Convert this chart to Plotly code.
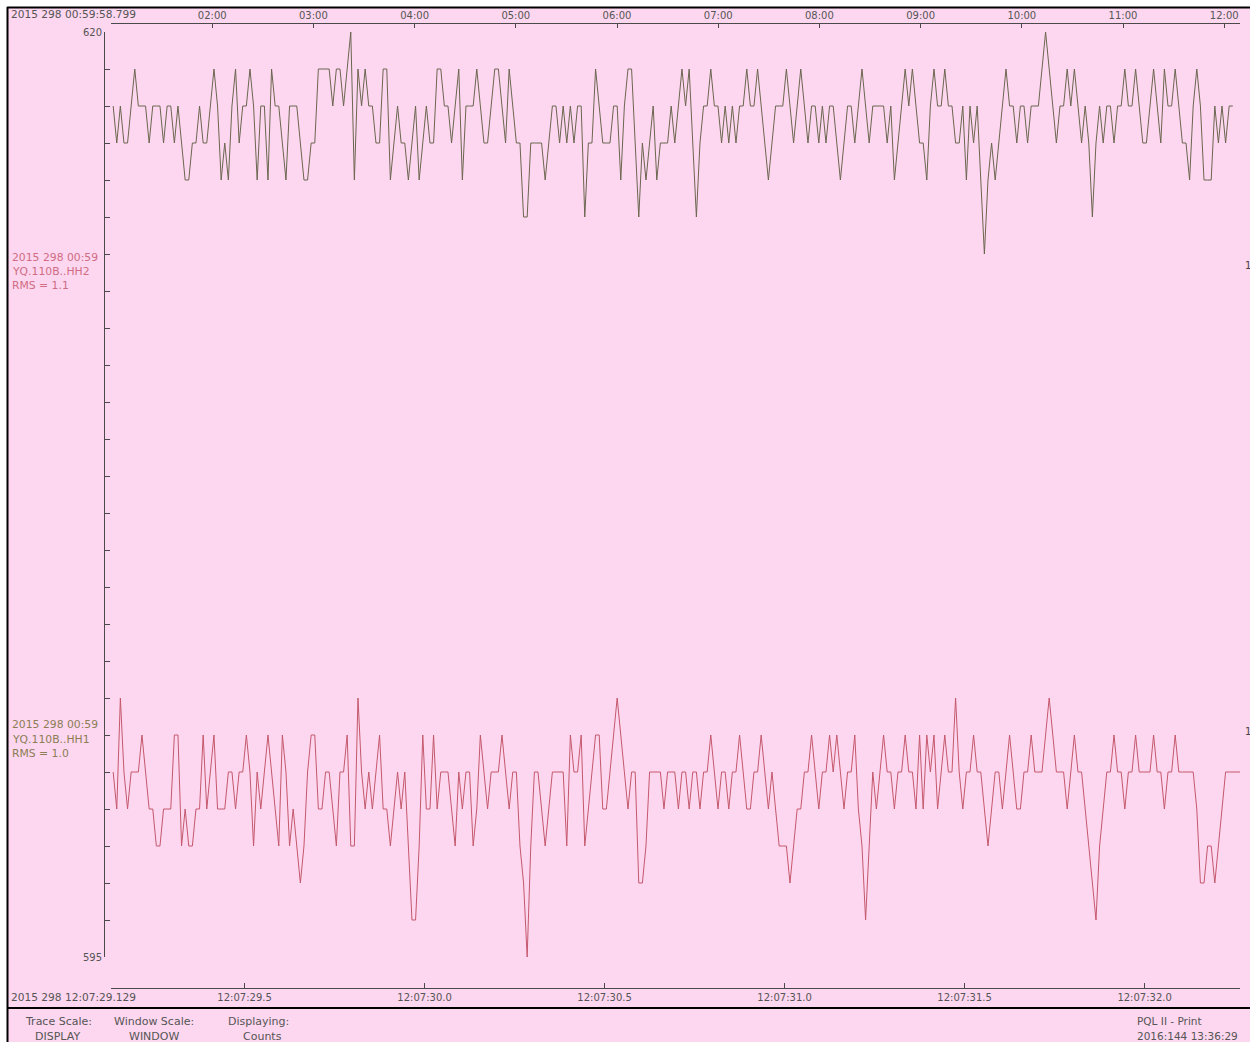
import plotly.graph_objects as go

# ---------------- data ----------------
START_SEC = 29.129          # seconds after 12:07:00 (bottom axis start)
END_SEC = 32.265
SAMPLE_DT = 0.01            # 100 Hz samples

hh2_counts = [
    618,617,618,617,617,618,619,618,618,618,
    617,618,618,618,617,618,618,617,618,617,
    616,616,617,617,618,617,617,618,619,618,
    616,617,616,618,619,617,618,618,619,618,
    616,618,618,616,619,618,618,617,616,618,
    618,618,617,616,616,617,617,619,619,619,
    619,618,619,619,618,619,620,616,619,618,
    619,618,618,617,617,619,619,616,617,618,
    617,617,616,617,618,616,617,618,617,617,
    619,619,618,618,617,618,619,616,618,618,
    618,619,618,617,617,618,619,619,618,617,
    619,618,617,617,615,615,617,617,617,617,
    616,617,618,618,617,618,617,618,617,618,
    618,615,617,617,619,618,617,617,617,618,
    618,616,618,619,619,617,615,617,616,617,
    618,616,617,617,617,618,617,
    618,619,618,619,617,615,617,618,618,619,
    618,618,617,618,617,618,617,618,618,619,
    618,618,619,618,617,616,617,618,618,618,
    619,618,617,618,619,618,617,618,618,617,
    618,617,618,618,617,616,617,618,618,617,
    618,619,618,617,618,618,618,618,617,618,
    616,617,618,619,618,619,618,617,617,616,
    618,619,618,618,619,618,618,617,617,618,
    616,618,617,618,616,614,616,617,616,617,
    618,619,618,618,617,618,618,617,618,618,
    618,619,620,619,618,617,618,618,619,618,
    619,618,617,618,617,615,617,618,617,618,
    618,617,618,618,619,618,618,619,618,617,
    617,618,619,618,617,619,618,618,619,618,
    617,617,616,618,619,618,616,616,616,618,
    617,618,617,618,618,
]

hh1_counts = [
    600,599,602,600,599,600,600,600,601,600,
    599,599,598,598,599,599,599,601,601,598,
    599,598,598,599,599,601,599,600,601,599,
    599,599,600,600,599,600,600,601,600,598,
    600,599,600,601,600,599,598,601,600,598,
    599,598,597,598,600,601,601,599,599,600,
    600,599,598,600,600,601,598,598,602,600,
    599,600,599,600,601,599,599,598,599,600,
    599,600,598,596,596,598,601,599,599,601,
    599,600,600,600,599,598,600,599,600,600,
    598,599,601,600,599,600,600,600,601,600,
    599,600,600,598,597,595,598,600,600,599,
    598,599,600,600,600,600,598,601,600,600,
    601,598,599,600,601,601,599,599,600,601,
    602,601,600,599,600,600,597,597,598,600,
    600,600,600,599,600,600,
    600,599,600,600,599,600,600,599,600,600,
    601,600,599,600,600,599,600,600,601,600,
    599,599,600,600,601,600,599,600,599,598,
    598,598,597,598,599,599,600,600,601,600,
    599,600,600,601,600,601,600,599,600,600,
    601,599,598,596,598,600,599,600,601,600,
    600,599,600,600,601,600,600,599,601,599,
    601,600,601,599,600,601,600,600,602,600,
    599,600,600,601,600,600,599,598,599,600,
    600,599,600,601,600,599,599,600,600,601,
    600,600,600,601,602,601,600,600,600,599,
    600,601,600,600,599,598,597,596,598,599,
    600,600,601,600,600,599,600,600,601,600,
    600,600,600,601,600,600,599,600,600,601,
    600,600,600,600,600,599,597,597,598,598,
    597,598,599,600,600,600,600,600,
]

bottom_tick_vals = [29.5, 30.0, 30.5, 31.0, 31.5, 32.0]
bottom_tick_text = ["12:07:29.5", "12:07:30.0", "12:07:30.5",
                    "12:07:31.0", "12:07:31.5", "12:07:32.0"]
top_tick_vals = [2, 3, 4, 5, 6, 7, 8, 9, 10, 11, 12]
top_tick_text = ["02:00", "03:00", "04:00", "05:00", "06:00", "07:00",
                 "08:00", "09:00", "10:00", "11:00", "12:00"]
TOP_RANGE = [1.0, 12.156]
Y_RANGE = [595, 620]

# ---------------- geometry helpers ----------------
W, H = 1250, 1042
PL, PR, PT, PB = 104, 1240, 23, 988   # plot area in pixels
def px(x):
    return (x - PL) / (PR - PL)
def py(y):
    return (PB - y) / (PB - PT)

BG = "#fdd7ef"
AX = "#4a4a4a"
TXT = "#555555"
FONT = "DejaVu Sans"

t_top = [START_SEC + 0.006 + i * SAMPLE_DT for i in range(len(hh2_counts))]
t_bot = [START_SEC + 0.006 + i * SAMPLE_DT for i in range(len(hh1_counts))]

fig = go.Figure()
fig.add_trace(go.Scatter(x=t_top, y=hh2_counts, mode="lines",
                         line=dict(color="#6b6650", width=1), hoverinfo="skip"))
fig.add_trace(go.Scatter(x=t_bot, y=hh1_counts, mode="lines",
                         line=dict(color="#c4586c", width=1), hoverinfo="skip"))
fig.add_trace(go.Scatter(x=[TOP_RANGE[0]], y=[Y_RANGE[0]], xaxis="x2", mode="markers",
                         marker=dict(opacity=0), hoverinfo="skip"))

xdom = [px(111), 1.0]
fig.update_layout(
    width=W, height=H,
    margin=dict(l=PL, r=W - PR, t=PT, b=H - PB, pad=0),
    paper_bgcolor=BG, plot_bgcolor=BG,
    showlegend=False,
    font=dict(family=FONT, size=10, color=TXT),
    xaxis=dict(domain=xdom, range=[START_SEC, END_SEC], anchor="free", position=0,
               showgrid=False, zeroline=False, showline=True, linecolor=AX, linewidth=1,
               ticks="inside", ticklen=5, tickcolor=AX,
               tickvals=[START_SEC] + bottom_tick_vals + [END_SEC],
               ticktext=[""] + bottom_tick_text + [""],
               tickfont=dict(family=FONT, size=10, color=TXT)),
    xaxis2=dict(domain=xdom, range=TOP_RANGE, overlaying="x", side="top",
                anchor="free", position=1,
                showgrid=False, zeroline=False, showline=True, linecolor=AX, linewidth=1,
                ticks="inside", ticklen=4, tickcolor=AX,
                tickvals=top_tick_vals + [TOP_RANGE[1]],
                ticktext=top_tick_text + [""],
                tickfont=dict(family=FONT, size=10, color=TXT)),
    yaxis=dict(domain=[py(957), py(32)], range=Y_RANGE, anchor="free", position=0,
               showgrid=False, zeroline=False, showline=True, linecolor=AX, linewidth=1,
               ticks="inside", ticklen=5, tickcolor=AX,
               tickvals=list(range(595, 621)),
               ticktext=["595"] + [""] * 24 + ["620"],
               tickfont=dict(family=FONT, size=10, color=TXT)),
)

# frame: white strips, black lines
shapes = [
    dict(type="rect", xref="paper", yref="paper", x0=px(0), x1=px(W), y0=py(7), y1=py(0),
         fillcolor="white", line=dict(width=0), layer="above"),
    dict(type="rect", xref="paper", yref="paper", x0=px(0), x1=px(7), y0=py(H), y1=py(0),
         fillcolor="white", line=dict(width=0), layer="above"),
    dict(type="line", xref="paper", yref="paper", x0=px(7), x1=px(W), y0=py(7.5), y1=py(7.5),
         line=dict(color="black", width=2), layer="above"),
    dict(type="line", xref="paper", yref="paper", x0=px(7.5), x1=px(7.5), y0=py(H), y1=py(7),
         line=dict(color="black", width=2), layer="above"),
    dict(type="line", xref="paper", yref="paper", x0=px(7), x1=px(W), y0=py(1008), y1=py(1008),
         line=dict(color="black", width=2), layer="above"),
]
fig.update_layout(shapes=shapes)

def ann(text, x, y, anchor="left", color=TXT, size=10):
    fig.add_annotation(text=text, xref="paper", yref="paper", x=px(x), y=py(y),
                       xanchor=anchor, yanchor="middle", showarrow=False,
                       font=dict(family=FONT, size=size, color=color))

ann("2015 298 00:59:58.799", 9, 14, size=10.6)
ann("2015 298 12:07:29.129", 9, 997, size=10.6)

HH2_COL = "#d06c84"
HH1_COL = "#8c7d55"
ann("2015 298 00:59", 10, 257, color=HH2_COL, size=10.8)
ann("YQ.110B..HH2", 10, 271, color=HH2_COL, size=10.8)
ann("RMS = 1.1", 10, 285, color=HH2_COL, size=10.8)
ann("2015 298 00:59", 10, 724, color=HH1_COL, size=10.8)
ann("YQ.110B..HH1", 10, 739, color=HH1_COL, size=10.8)
ann("RMS = 1.0", 10, 753, color=HH1_COL, size=10.8)

ann("1", 1243, 265, color="#444444")
ann("1", 1243, 731, color="#444444")

ann("Trace Scale:", 58, 1021, anchor="center", size=11)
ann("DISPLAY", 57, 1036, anchor="center", size=11)
ann("Window Scale:", 154, 1021, anchor="center", size=11)
ann("WINDOW", 154, 1036, anchor="center", size=11)
ann("Displaying:", 258, 1021, anchor="center", size=11)
ann("Counts", 262, 1036, anchor="center", size=11)
ann("PQL II - Print", 1135, 1021, size=10.5)
ann("2016:144 13:36:29", 1135, 1036, size=10.5)

fig.write_html("out.html")
